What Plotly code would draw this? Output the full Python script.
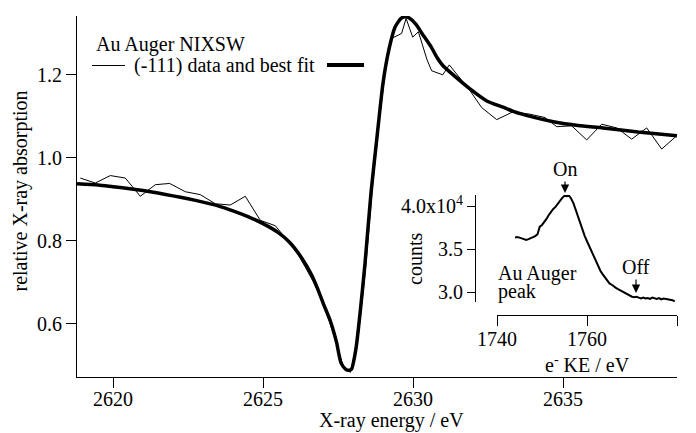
import plotly.graph_objects as go

# ---- main panel data (NIXSW) ----
data_E = [2618.91, 2619.41, 2619.91, 2620.41, 2620.91, 2621.41, 2621.89, 2622.41, 2622.91, 2623.41,
          2623.91, 2624.41, 2624.91, 2625.41, 2625.66, 2625.91, 2626.16, 2626.41, 2626.66, 2626.91,
          2627.16, 2627.41, 2627.66, 2627.91, 2628.16, 2628.41, 2628.66, 2628.91, 2629.16, 2629.29,
          2629.62, 2629.77, 2629.99, 2630.18, 2630.46, 2630.62, 2630.99, 2631.21, 2631.9, 2632.29,
          2632.79, 2633.34, 2633.9, 2634.4, 2634.79, 2635.29, 2635.79, 2636.29, 2636.79, 2637.29,
          2637.79, 2638.29, 2638.79]
data_v = [0.951, 0.939, 0.957, 0.951, 0.907, 0.935, 0.938, 0.918, 0.911, 0.889,
          0.886, 0.907, 0.849, 0.836, 0.814, 0.792, 0.768, 0.736, 0.703, 0.664,
          0.618, 0.560, 0.500, 0.482, 0.560, 0.725, 0.940, 1.110, 1.258, 1.288,
          1.300, 1.336, 1.291, 1.304, 1.238, 1.210, 1.200, 1.224, 1.162, 1.121,
          1.092, 1.111, 1.105, 1.097, 1.075, 1.077, 1.043, 1.081, 1.072, 1.045,
          1.072, 1.021, 1.053]

fit_E = [2618.8, 2619.5, 2620.0, 2620.5, 2621.0, 2621.5, 2622.0, 2622.5, 2623.0, 2623.5,
         2624.0, 2624.5, 2625.0, 2625.5, 2625.9, 2626.3, 2626.6, 2626.8, 2627.0, 2627.25,
         2627.45, 2627.6, 2627.75, 2627.85, 2627.95, 2628.1, 2628.25, 2628.4, 2628.6, 2628.8,
         2629.0, 2629.2, 2629.4, 2629.6, 2629.75, 2629.9, 2630.1, 2630.3, 2630.6, 2630.8,
         2631.0, 2631.34, 2631.9, 2632.46, 2633.0, 2633.34, 2634.0, 2634.68, 2635.5, 2636.34,
         2637.5, 2638.8]
fit_v = [0.937, 0.934, 0.930, 0.926, 0.921, 0.915, 0.908, 0.901, 0.893, 0.884,
         0.872, 0.858, 0.841, 0.820, 0.795, 0.757, 0.720, 0.688, 0.650, 0.605,
         0.555, 0.505, 0.490, 0.487, 0.490, 0.540, 0.635, 0.745, 0.915, 1.050,
         1.180, 1.262, 1.315, 1.336, 1.340, 1.336, 1.322, 1.300, 1.268, 1.242,
         1.222, 1.200, 1.166, 1.137, 1.122, 1.112, 1.098, 1.087, 1.078, 1.072,
         1.062, 1.053]

main_xticks = [2620, 2625, 2630, 2635]
main_yticks = [0.6, 0.8, 1.0, 1.2]

# ---- inset data (Au Auger peak, counts in units of 1e4) ----
ke = [1744.0, 1744.5, 1745.0, 1745.5, 1746.0, 1746.5, 1747.0, 1747.5, 1748.0, 1748.5,
      1749.0, 1749.5, 1750.0, 1750.5, 1751.0, 1751.5, 1752.0, 1752.5, 1753.0, 1753.5,
      1754.0, 1754.5, 1755.0, 1755.5, 1756.0, 1756.5, 1757.0, 1757.5, 1758.0, 1758.5,
      1759.0, 1759.5, 1760.0, 1760.5, 1761.0, 1761.5, 1762.0, 1762.5, 1763.0, 1763.5,
      1764.0, 1764.5, 1765.0, 1765.5, 1766.0, 1766.5, 1767.0, 1767.5, 1768.0, 1768.5,
      1769.0, 1769.5, 1770.0, 1770.5, 1771.0, 1771.5, 1772.0, 1772.5, 1773.0, 1773.5,
      1774.0, 1774.5, 1775.0, 1775.5, 1776.0, 1776.5, 1777.0, 1777.5, 1778.0, 1778.5,
      1779.0, 1779.5]
counts = [3.635, 3.640, 3.632, 3.625, 3.610, 3.605, 3.615, 3.625, 3.640, 3.650,
          3.672, 3.760, 3.780, 3.810, 3.850, 3.895, 3.935, 3.965, 3.990, 4.030,
          4.060, 4.095, 4.120, 4.115, 4.120, 4.085, 4.030, 3.950, 3.870, 3.790,
          3.720, 3.650, 3.590, 3.530, 3.470, 3.410, 3.350, 3.300, 3.245, 3.205,
          3.170, 3.135, 3.100, 3.085, 3.060, 3.045, 3.030, 3.015, 2.995, 2.985,
          2.970, 2.960, 2.945, 2.940, 2.945, 2.935, 2.925, 2.935, 2.925, 2.930,
          2.920, 2.935, 2.925, 2.920, 2.930, 2.915, 2.925, 2.920, 2.915, 2.910,
          2.905, 2.890]
inset_xticks = [1740, 1760, 1780]
inset_yticks = [3.0, 3.5, 4.0]
inset_yticktext = ["3.0", "3.5", "4.0x10<sup>4</sup>"]

W, H = 696, 433
FONT = "Liberation Serif, Times New Roman, serif"
FS = 20


def px(x):
    return x / W


def py(y):
    return 1 - y / H


fig = go.Figure()
fig.add_trace(go.Scatter(x=data_E, y=data_v, mode="lines",
                         line=dict(color="black", width=1), showlegend=False))
fig.add_trace(go.Scatter(x=fit_E, y=fit_v, mode="lines",
                         line=dict(color="black", width=3.5, shape="spline", smoothing=0.6),
                         showlegend=False))
fig.add_trace(go.Scatter(x=ke, y=counts, mode="lines", xaxis="x2", yaxis="y2",
                         line=dict(color="black", width=2), showlegend=False))

axis_common = dict(showgrid=False, zeroline=False, showline=True, linecolor="black",
                   linewidth=1, ticks="outside", tickcolor="black", tickwidth=1,
                   automargin=False,
                   tickfont=dict(family=FONT, size=FS, color="black"))

fig.update_layout(
    template="none",
    width=W, height=H, margin=dict(l=0, r=0, t=0, b=0, pad=0),
    paper_bgcolor="white", plot_bgcolor="rgba(0,0,0,0)",
    font=dict(family=FONT, size=FS, color="black"),
    xaxis=dict(domain=[px(77), px(677)], range=[2618.8, 2638.8], tickvals=main_xticks,
               ticklen=10, anchor="y", ticklabelstandoff=-6, **axis_common),
    yaxis=dict(domain=[py(377), py(16)], range=[0.471, 1.342], tickvals=main_yticks,
               tickformat=".1f", ticklen=10, anchor="x", **axis_common),
    xaxis2=dict(domain=[px(497), px(677)], range=[1740, 1780], tickvals=inset_xticks,
                ticklen=10, anchor="free", position=py(315), ticklabelstandoff=-4,
                **axis_common),
    yaxis2=dict(domain=[py(302), py(195)], range=[2.884, 4.128], tickvals=inset_yticks,
                ticktext=inset_yticktext, ticklen=8, anchor="free", position=px(475),
                **axis_common),
)

ann = []


def text(t, x, y, xanchor="center", yanchor="middle", angle=0):
    ann.append(dict(text=t, x=px(x), y=py(y), xref="paper", yref="paper",
                    xanchor=xanchor, yanchor=yanchor, showarrow=False, textangle=angle,
                    font=dict(family=FONT, size=FS, color="black")))


text("X-ray energy / eV", 391, 420)
text("relative X-ray absorption", 20, 191.5, angle=-90)
text("counts", 415, 259, angle=-90)
text("e<sup>-</sup> KE / eV", 587, 364)
text("Au Auger NIXSW", 94, 45, xanchor="left")
text("(-111) data and best fit", 132, 65, xanchor="left")
text("Au Auger", 496, 273, xanchor="left")
text("peak", 496, 291, xanchor="left")

for label, x, ytip, ytext in [("On", 565, 193, 169), ("Off", 636, 293, 267)]:
    ann.append(dict(text=label, x=px(x), y=py(ytip), xref="paper", yref="paper",
                    ax=0, ay=ytext - ytip, showarrow=True, arrowhead=2, arrowsize=1.4,
                    arrowwidth=1.2, arrowcolor="black",
                    font=dict(family=FONT, size=FS, color="black")))

fig.update_layout(annotations=ann)

fig.update_layout(shapes=[
    dict(type="line", xref="paper", yref="paper", x0=px(92), x1=px(125), y0=py(65.5), y1=py(65.5),
         line=dict(color="black", width=1)),
    dict(type="line", xref="paper", yref="paper", x0=px(327), x1=px(364), y0=py(65), y1=py(65),
         line=dict(color="black", width=4)),
])

fig.write_html("out.html")
